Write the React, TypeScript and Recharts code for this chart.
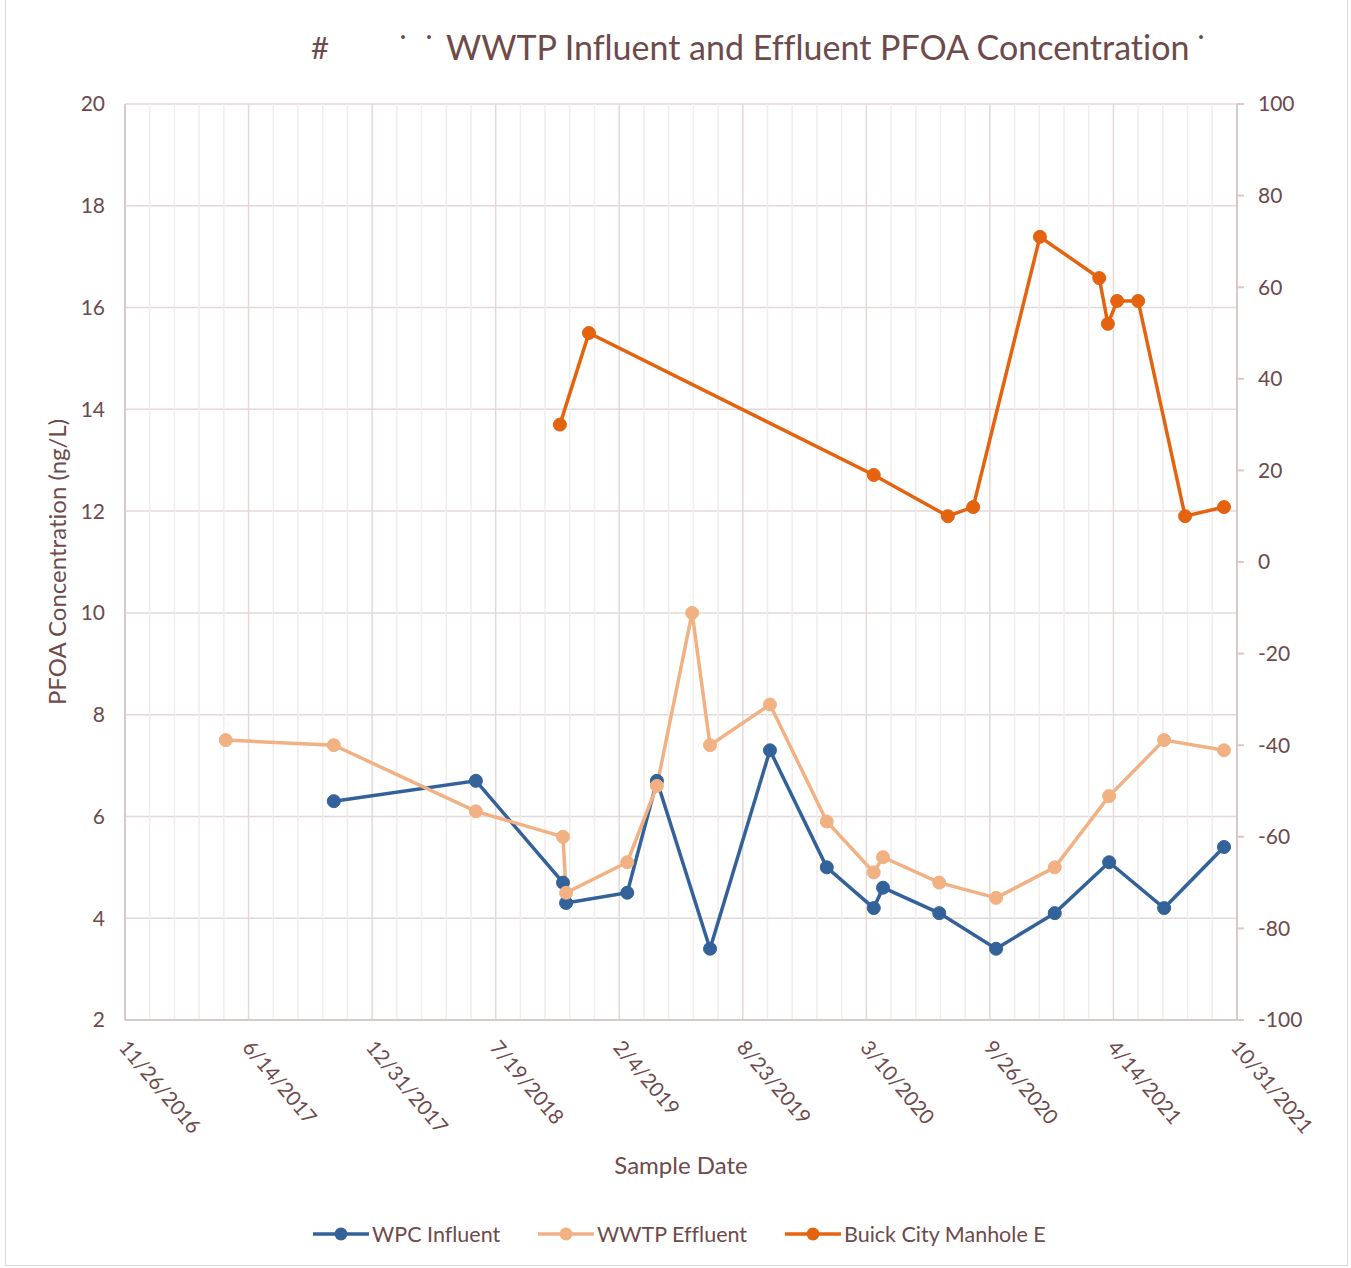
import React from "react";
import { LineChart, Line, XAxis, YAxis, CartesianGrid, ReferenceLine } from "recharts";

const influentDates = ["2017-10-30", "2018-06-17", "2018-11-05", "2018-11-10", "2019-02-17", "2019-04-06", "2019-07-01", "2019-10-06", "2020-01-06", "2020-03-22", "2020-04-06", "2020-07-06", "2020-10-06", "2021-01-09", "2021-04-07", "2021-07-05", "2021-10-10"];
const influentValues = [6.3, 6.7, 4.7, 4.3, 4.5, 6.7, 3.4, 7.3, 5.0, 4.2, 4.6, 4.1, 3.4, 4.1, 5.1, 4.2, 5.4];

const effluentDates = ["2017-05-08", "2017-10-30", "2018-06-17", "2018-11-05", "2018-11-10", "2019-02-17", "2019-04-06", "2019-06-02", "2019-07-01", "2019-10-06", "2020-01-06", "2020-03-22", "2020-04-06", "2020-07-06", "2020-10-06", "2021-01-09", "2021-04-07", "2021-07-05", "2021-10-10"];
const effluentValues = [7.5, 7.4, 6.1, 5.6, 4.5, 5.1, 6.6, 10.0, 7.4, 8.2, 5.9, 4.9, 5.2, 4.7, 4.4, 5.0, 6.4, 7.5, 7.3];

const buickDates = ["2018-10-31", "2018-12-17", "2020-03-22", "2020-07-20", "2020-08-30", "2020-12-16", "2021-03-22", "2021-04-05", "2021-04-20", "2021-05-24", "2021-08-08", "2021-10-10"];
const buickValues = [30, 50, 19, 10, 12, 71, 62, 52, 57, 57, 10, 12];

const xTickDates = ["2016-11-26", "2017-06-14", "2017-12-31", "2018-07-19", "2019-02-04", "2019-08-23", "2020-03-10", "2020-09-26", "2021-04-14", "2021-10-31"];
const leftTicks = [2, 4, 6, 8, 10, 12, 14, 16, 18, 20];
const rightTicks = [-100, -80, -60, -40, -20, 0, 20, 40, 60, 80, 100];

// excel-style day serial
const serial = (d: string) => {
  const [y, m, dd] = d.split("-").map(Number);
  return Date.UTC(y, m - 1, dd) / 86400000 + 25569;
};
const fmtDate = (s: number) => {
  const dt = new Date((s - 25569) * 86400000);
  return `${dt.getUTCMonth() + 1}/${dt.getUTCDate()}/${dt.getUTCFullYear()}`;
};

const toRows = (dates: string[], values: number[]) => dates.map((d, i) => ({ x: serial(d), y: values[i] }));
const influent = toRows(influentDates, influentValues);
const effluent = toRows(effluentDates, effluentValues);
const buick = toRows(buickDates, buickValues);

const xTicks = xTickDates.map(serial);
const xMin = xTicks[0];
const xMax = xTicks[xTicks.length - 1];
const minorLines: number[] = [];
for (let t = xMin + 40; t < xMax; t += 40) {
  if ((t - xMin) % 200 !== 0) minorLines.push(t);
}

const TEXT = "#6e4a4a";
const AXIS = "#dbc9c9";
const GRID = "#e4d8d8";
const MINOR = "#f3ecec";
const FONT = "Lato, 'Open Sans', sans-serif";

const BLUE = "#336199";
const PEACH = "#f2b183";
const ORANGE = "#e4630f";

const XTick = (props: any) => {
  const { x, y, payload } = props;
  return (
    <text x={x - 7} y={y + 20} transform={`rotate(50, ${x - 7}, ${y + 20})`} textAnchor="start" fill={TEXT} fontSize={20.5} fontFamily={FONT}>
      {fmtDate(payload.value)}
    </text>
  );
};

const legendItems = [
  { name: "WPC Influent", color: BLUE, left: 313 },
  { name: "WWTP Effluent", color: PEACH, left: 538 },
  { name: "Buick City Manhole E", color: ORANGE, left: 785 },
];

export default function App() {
  return (
    <div style={{ position: "absolute", left: 0, top: 0, width: 1351, height: 1268, background: "#fff", fontFamily: FONT, color: TEXT, fontVariantLigatures: "none" }}>
      <div style={{ position: "absolute", left: 5, top: -1, width: 1341, height: 1265, border: "1px solid #d9d9d9" }} />
      <div style={{ position: "absolute", left: 311, top: 28, fontSize: 31 }}>#</div>
      <div style={{ position: "absolute", left: 397, top: 28, fontSize: 30 }}>˙</div>
      <div style={{ position: "absolute", left: 423, top: 28, fontSize: 30 }}>˙</div>
      <div style={{ position: "absolute", left: 446, top: 26, fontSize: 34, whiteSpace: "nowrap" }}>
        WWTP Influent and Effluent PFOA Concentration
      </div>
      <div style={{ position: "absolute", left: 1195, top: 28, fontSize: 30 }}>˙</div>

      <LineChart width={1351} height={1268} data={influent} margin={{ top: 104, left: 65, right: 54, bottom: 128 }} style={{ position: "absolute", left: 0, top: 0 }}>
        <CartesianGrid yAxisId="left" vertical={false} stroke={GRID} strokeWidth={1.5} />
        {minorLines.map((t) => (
          <ReferenceLine key={`m${t}`} yAxisId="left" x={t} stroke={MINOR} strokeWidth={1.5} />
        ))}
        {xTicks.slice(1, -1).map((t) => (
          <ReferenceLine key={`M${t}`} yAxisId="left" x={t} stroke={GRID} strokeWidth={1.5} />
        ))}
        <XAxis
          type="number"
          dataKey="x"
          domain={[xMin, xMax]}
          ticks={xTicks}
          allowDataOverflow
          height={120}
          tick={<XTick />}
          tickLine={false}
          axisLine={{ stroke: AXIS, strokeWidth: 2 }}
          yAxisId="left"
        />
        <YAxis
          yAxisId="left"
          domain={[2, 20]}
          ticks={leftTicks}
          width={60}
          tick={{ fill: TEXT, fontSize: 21, fontFamily: FONT }}
          tickLine={false}
          axisLine={{ stroke: AXIS, strokeWidth: 2 }}
          tickMargin={14}
        />
        <YAxis
          yAxisId="right"
          orientation="right"
          domain={[-100, 100]}
          ticks={rightTicks}
          width={60}
          tick={{ fill: TEXT, fontSize: 21, fontFamily: FONT }}
          tickLine={{ stroke: AXIS, strokeWidth: 2 }}
          tickSize={7}
          axisLine={{ stroke: AXIS, strokeWidth: 2 }}
          tickMargin={14}
        />
        <Line yAxisId="left" data={influent} dataKey="y" name="WPC Influent" stroke={BLUE} strokeWidth={3.5} dot={{ r: 6.5, fill: BLUE, stroke: BLUE, strokeWidth: 1 }} isAnimationActive={false} />
        <Line yAxisId="left" data={effluent} dataKey="y" name="WWTP Effluent" stroke={PEACH} strokeWidth={3.5} dot={{ r: 6.5, fill: PEACH, stroke: PEACH, strokeWidth: 1 }} isAnimationActive={false} />
        <Line yAxisId="right" data={buick} dataKey="y" name="Buick City Manhole E" stroke={ORANGE} strokeWidth={3.5} dot={{ r: 6.5, fill: ORANGE, stroke: ORANGE, strokeWidth: 1 }} isAnimationActive={false} />
      </LineChart>

      <div style={{ position: "absolute", left: 56, top: 562, transform: "translate(-50%, -50%) rotate(-90deg)", fontSize: 24, whiteSpace: "nowrap" }}>
        PFOA Concentration (ng/L)
      </div>
      <div style={{ position: "absolute", left: 681, top: 1164, transform: "translate(-50%, -50%)", fontSize: 24, whiteSpace: "nowrap" }}>
        Sample Date
      </div>

      {legendItems.map((it) => (
        <div key={it.name} style={{ position: "absolute", left: it.left, top: 1220, height: 28, display: "flex", alignItems: "center", whiteSpace: "nowrap" }}>
          <svg width={56} height={16} style={{ marginRight: 3 }}>
            <line x1={0} y1={8} x2={56} y2={8} stroke={it.color} strokeWidth={3.5} />
            <circle cx={28} cy={8} r={6.5} fill={it.color} />
          </svg>
          <span style={{ fontSize: 21.5 }}>{it.name}</span>
        </div>
      ))}
    </div>
  );
}
